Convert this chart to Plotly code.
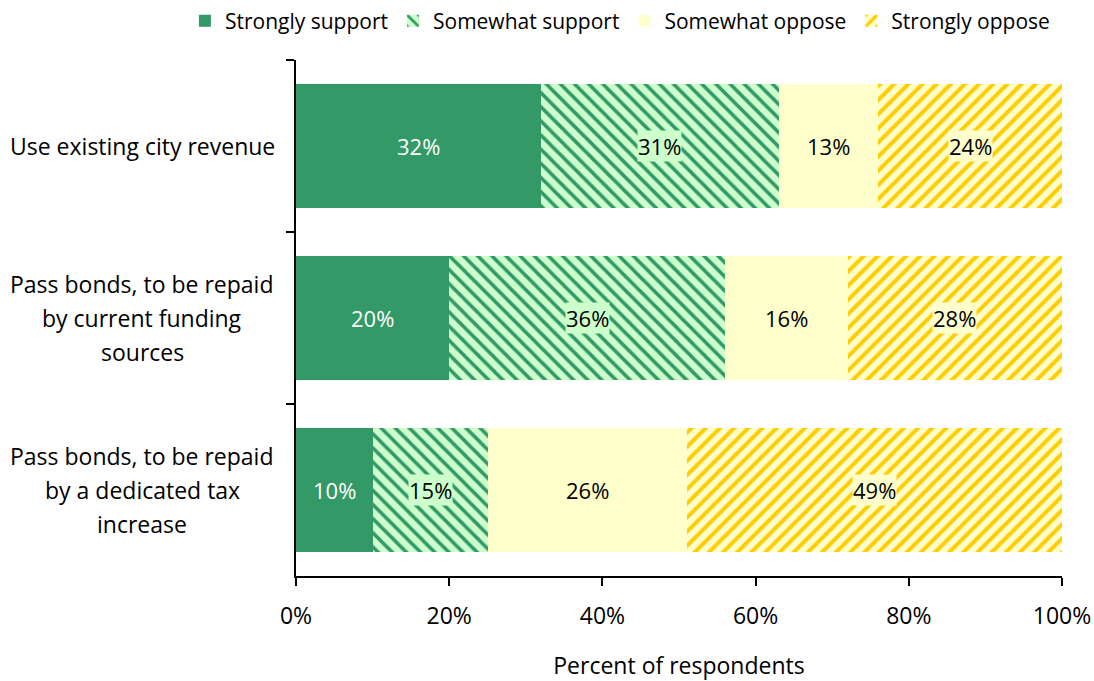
import plotly.graph_objects as go

categories = [
    "Use existing city revenue",
    "Pass bonds, to be repaid by current funding sources",
    "Pass bonds, to be repaid by a dedicated tax increase",
]
category_lines = [
    ["Use existing city revenue"],
    ["Pass bonds, to be repaid", "by current funding", "sources"],
    ["Pass bonds, to be repaid", "by a dedicated tax", "increase"],
]
series_names = ["Strongly support", "Somewhat support", "Somewhat oppose", "Strongly oppose"]
strongly_support = [32, 20, 10]
somewhat_support = [31, 36, 15]
somewhat_oppose = [13, 16, 26]
strongly_oppose = [24, 28, 49]
x_ticks = [0, 20, 40, 60, 80, 100]

FONT = "Open Sans"
FS = 23
DARK_GREEN = "#339966"
LIGHT_GREEN = "#CCFFCC"
LIGHT_YELLOW = "#FFFFCC"
GOLD = "#FFCC00"

series = [strongly_support, somewhat_support, somewhat_oppose, strongly_oppose]
styles = [
    dict(color=DARK_GREEN, pattern=dict(shape="")),
    dict(color=LIGHT_GREEN, pattern=dict(shape="\\", fgcolor=DARK_GREEN, bgcolor=LIGHT_GREEN,
                                          size=10, solidity=0.35, fillmode="replace")),
    dict(color=LIGHT_YELLOW, pattern=dict(shape="")),
    dict(color=LIGHT_YELLOW, pattern=dict(shape="/", fgcolor=GOLD, bgcolor=LIGHT_YELLOW,
                                           size=10, solidity=0.4, fillmode="replace")),
]
label_bg = [None, LIGHT_GREEN, None, LIGHT_YELLOW]
label_color = ["white", "black", "black", "black"]

fig = go.Figure()
for name, vals, st in zip(series_names, series, styles):
    fig.add_trace(go.Bar(
        y=categories, x=vals, name=name, orientation="h",
        marker=dict(color=st["color"], pattern=st["pattern"], line=dict(width=0)),
        width=0.72,
    ))

annotations = []
# value labels placed at the centre of each segment
cum = [0, 0, 0]
for si, vals in enumerate(series):
    for ci, v in enumerate(vals):
        center = cum[ci] + v / 2
        cum[ci] += v
        ann = dict(x=center, y=categories[ci], xref="x", yref="y", text=f"{v}%",
                   showarrow=False, font=dict(family=FONT, size=FS - 1, color=label_color[si]),
                   borderpad=0)
        if label_bg[si]:
            ann["bgcolor"] = label_bg[si]
        annotations.append(ann)

# category labels, one annotation per line so the line spacing can be set
LINE_GAP = 34
for ci, lines in enumerate(category_lines):
    n = len(lines)
    for li, line in enumerate(lines):
        shift = ((n - 1) / 2 - li) * LINE_GAP
        annotations.append(dict(
            x=-0.201, y=categories[ci], xref="paper", yref="y", text=line,
            showarrow=False, xanchor="center", yanchor="middle", yshift=shift,
            font=dict(family=FONT, size=FS, color="black"),
        ))

fig.update_layout(
    barmode="stack",
    width=1094, height=681,
    margin=dict(l=296, r=32, t=60, b=105, autoexpand=False),
    paper_bgcolor="white", plot_bgcolor="white",
    font=dict(family=FONT, size=FS, color="black"),
    bargap=0.28,
    legend=dict(orientation="h", x=-0.145, y=1.115, xanchor="left", yanchor="top",
                font=dict(family=FONT, size=21), traceorder="normal",
                itemwidth=30, tracegroupgap=0),
    annotations=annotations,
    xaxis=dict(
        range=[0, 100], tickvals=x_ticks, ticktext=[f"{t}%" for t in x_ticks],
        showgrid=False, zeroline=False, showline=True, linecolor="black", linewidth=2,
        ticks="outside", ticklen=8, tickwidth=2, tickcolor="black", ticklabelstandoff=10,
        title=dict(text="Percent of respondents", font=dict(family=FONT, size=FS), standoff=28),
        tickfont=dict(family=FONT, size=FS),
    ),
    yaxis=dict(
        autorange="reversed", showticklabels=False, showgrid=False, zeroline=False,
        showline=True, linecolor="black", linewidth=2,
        ticks="outside", ticklen=8, tickwidth=2, tickcolor="black", tickson="boundaries",
    ),
)

fig.write_html("out.html")
